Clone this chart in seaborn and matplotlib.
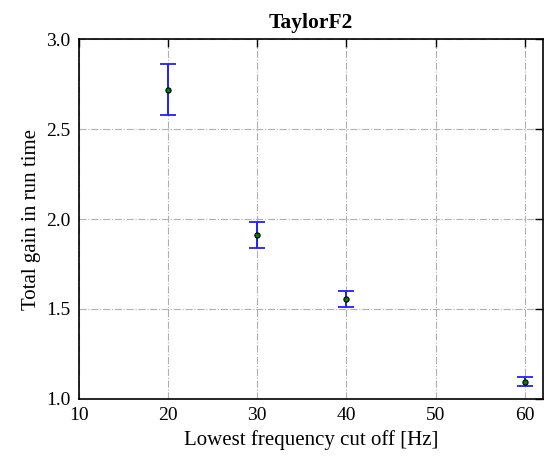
import matplotlib
matplotlib.use("Agg")
import matplotlib.pyplot as plt
import seaborn as sns
import pandas as pd

freq = [20, 30, 40, 60]
gain = [2.72, 1.91, 1.555, 1.095]
err = [0.14, 0.072, 0.047, 0.025]

sns.set_theme(style="white")
plt.rcParams['font.family'] = ['Liberation Serif', 'DejaVu Serif']
plt.rcParams['text.color'] = 'black'
plt.rcParams['axes.labelcolor'] = 'black'
plt.rcParams['xtick.color'] = 'black'
plt.rcParams['ytick.color'] = 'black'

df = pd.DataFrame({"freq": freq, "gain": gain, "err": err})

fig, ax = plt.subplots(figsize=(5.59, 4.72), dpi=100)
fig.subplots_adjust(left=0.141, right=0.971, top=0.917, bottom=0.155)

ax.errorbar(df["freq"], df["gain"], yerr=df["err"], fmt="none", ecolor="#2020ff",
            elinewidth=1.4, capsize=6, capthick=1.3, zorder=3)
sns.scatterplot(data=df, x="freq", y="gain", ax=ax, color="green", edgecolor="black",
                s=14, linewidth=0.8, zorder=4)

ax.set_xlim(10, 62)
ax.set_ylim(1.0, 3.0)
ax.set_xticks([10, 20, 30, 40, 50, 60])
ax.set_yticks([1.0, 1.5, 2.0, 2.5, 3.0])
ax.set_xticklabels(["10", "20", "30", "40", "50", "60"])
ax.set_yticklabels(["1.0", "1.5", "2.0", "2.5", "3.0"])
ax.grid(True, color="#b0b0b0", linestyle="-.", linewidth=0.8)
ax.tick_params(direction="in", top=True, right=True, length=6, width=1, labelsize=14, pad=6, color="black")
for s in ax.spines.values():
    s.set_color("black")
    s.set_linewidth(1.2)
ax.set_xlabel("Lowest frequency cut off [Hz]", fontsize=15, color="black")
ax.set_ylabel("Total gain in run time", fontsize=15, color="black")
ax.set_title("TaylorF2", fontsize=15.5, fontweight="bold", color="black", pad=8)

fig.savefig("out.png", dpi=100)
